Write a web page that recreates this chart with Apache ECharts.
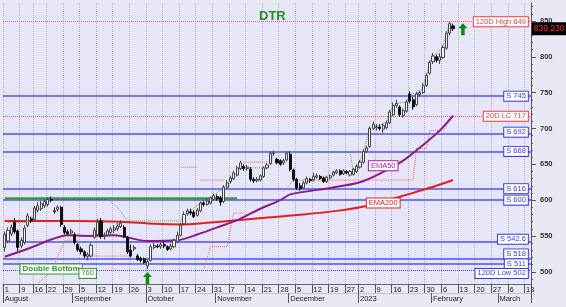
<!DOCTYPE html>
<html><head><meta charset="utf-8">
<script src="https://cdn.jsdelivr.net/npm/echarts@6/dist/echarts.min.js"></script>
<style>html,body{margin:0;padding:0;background:#e9e9f3;}#c{width:566px;height:307px;}</style>
</head><body><div id="c"></div>
<script>
// ---------- categories (trading days) ----------
const startDate = '2022-08-01';
const endDate = '2023-03-14';
const closedDays = ['2022-08-08', '2022-08-15', '2022-12-26'];
function buildDays() {
  const out = [];
  let d = new Date(startDate + 'T00:00:00Z');
  const e = new Date(endDate + 'T00:00:00Z');
  while (d <= e) {
    const w = d.getUTCDay();
    const s = d.toISOString().slice(0, 10);
    if (w !== 0 && w !== 6 && !closedDays.includes(s)) out.push(s);
    d = new Date(d.getTime() + 86400000);
  }
  return out;
}
const categories = buildDays();

// ---------- tick labels ----------
const weekTicks = ['2022-08-01','2022-08-09','2022-08-16','2022-08-22','2022-08-29','2022-09-05','2022-09-12','2022-09-19','2022-09-26','2022-10-03','2022-10-10','2022-10-17','2022-10-24','2022-10-31','2022-11-07','2022-11-14','2022-11-21','2022-11-28','2022-12-05','2022-12-12','2022-12-19','2022-12-27','2023-01-02','2023-01-09','2023-01-16','2023-01-23','2023-01-30','2023-02-06','2023-02-13','2023-02-20','2023-02-27','2023-03-06','2023-03-13'];
const monthStarts = ['2022-08-01','2022-09-01','2022-10-03','2022-11-01','2022-12-01','2023-01-02','2023-02-01','2023-03-01'];
const monthNames = ['August','September','October','November','December','2023','February','March'];
const yTicks = [500, 550, 600, 650, 700, 750, 800, 850];
const yMinorTicks = [490,510,520,530,540,560,570,580,590,610,620,630,640,660,670,680,690,710,720,730,740,760,770,780,790,810,820,830,840,860,870];

// ---------- candles [open, close, low, high] ----------
const augCandles = [
  [534,552,528,556],[543,558,540,562],[553,562,550,566],[569,556,553,575],[557,534,529,559],
  [536,544,533,548],[541,561,538,565],[565,578,562,582],[574,571,568,577],[573,589,571,592],
  [586,592,583,597],[588,595,585,599],[592,598,589,601],[594,601,591,604],[601,600,597,605],
  [585,584,581,590],[587,590,584,593],[590,566,563,592],[562,555,552,565],[556,553,550,559],
  [554,557,552,560]
];
const sepCandles = [
  [552,541,538,555],[538,531,528,540],[532,528,524,535],[528,522,519,530],[521,524,516,527],
  [522,537,520,540],[548,558,546,562],[552,569,550,574],[571,549,546,575],[549,551,545,555],
  [551,557,549,560],[555,560,552,563],[558,561,554,565],[560,564,557,568],[563,568,561,572],
  [562,549,547,565],[548,528,525,550],[530,522,520,538],[532,534,529,537],[522,517,515,525],
  [519,516,513,521],[518,513,511,520]
];
const octCandles = [
  [508,514,504,517],[516,535,514,538],[534,537,531,540],[536,535,533,539],[535,538,532,541],
  [538,536,533,542],[535,531,529,537],[532,536,530,539],[535,544,533,546],[542,551,540,556],
  [551,565,549,568],[567,580,565,584],[581,585,578,588],[584,582,579,588],[583,577,575,586],
  [579,586,577,589],[585,596,583,598],[596,594,591,599],[594,599,592,602],[596,603,594,605],
  [601,606,599,609]
];
const novCandles = [
  [605,602,599,608],[603,597,592,606],[598,618,596,621],[618,624,615,628],[626,631,623,634],
  [630,638,628,641],[635,645,633,648],[644,652,642,655],[647,644,641,650],[644,646,641,649],
  [643,629,626,646],[629,627,624,632],[627,629,625,632],[628,634,626,636],[633,645,631,647],
  [645,649,643,652],[651,665,649,668],[665,666,662,669],[657,652,650,659],[655,650,648,657],
  [652,655,649,658],[656,665,654,668]
];
const decCandles = [
  [664,643,640,668],[642,629,626,644],[629,617,614,631],[620,616,613,624],[617,624,615,627],
  [624,630,622,633],[629,627,624,631],[628,633,626,638],[632,634,630,637],[633,630,628,635],
  [631,626,624,633],[626,632,624,634],[631,634,629,636],[635,639,633,641],[638,641,636,643],
  [641,636,634,643],[637,641,635,643],[640,638,636,642],[635,640,633,642],[636,643,634,645],
  [640,647,638,650]
];
const janCandles = [
  [646,653,644,656],[653,668,651,671],[668,673,666,676],[675,700,673,703],[700,706,698,710],
  [701,702,697,706],[702,700,697,706],[699,704,694,707],[701,708,699,711],[708,723,706,726],
  [719,732,717,736],[732,735,729,740],[730,719,716,732],[718,725,715,728],[724,737,722,740],
  [748,738,735,752],[740,730,726,744],[733,748,731,751],[747,750,744,753],[750,760,748,763],
  [760,774,758,777],[777,792,775,795]
];
const febCandles = [
  [793,801,790,805],[800,795,792,803],[795,800,790,805],[799,813,797,816],[812,833,810,836],
  [833,846,830,849],[843,839.23,836,846]
];
const candles = [].concat(augCandles, sepCandles, octCandles, novCandles, decCandles, janCandles, febCandles);
const lastClose = 839.23;

// ---------- moving averages & trails [dayIndex, value] ----------
const ema200 = [[0,571],[20,571],[35,570],[45,567],[53,566],[60,568],[70,572],[80,576],[90,580],[100,585],[107,590],[114,598],[120,606],[125,613],[130,620],[135,628]];
const ema50 = [[0,521],[8,534],[14,545],[19,551],[25,550],[33,551],[43,543],[52,544],[58,552],[64,562],[70,572],[77,588],[83,600],[86,608],[98,617],[107,625],[113,637],[120,655],[126,677],[131,697],[135,718]];
const greenTrailA = [[1,569],[7,569],[13,601]];
const blueTrail = [[13,601],[31,601]];
const greenTrailB = [[31,601],[34,590],[37,571],[53,571],[55,582],[59,596],[62,603],[66,618],[69,634],[71,645],[79,645],[80,649],[81,667],[104,667],[105,640],[107,653],[108,668],[110,700],[115,708],[116,723],[117,732],[118,735],[121,737],[122,748],[125,750],[126,760],[127,774],[128,792],[129,801],[132,813],[133,833],[134,846],[135,846]];
const redTrailA = [[10,484],[14,500],[18,544],[22,544]];
const redTrailB = [[25,522],[38,522]];
const redTrailC = [[60,505],[62,535],[66,535],[67,535],[69,582],[72,582]];
const redTrailD = [[53,646],[58,646]];
const redTrailE = [[59,628],[66,628]];
const redTrailF = [[72,653],[79,653]];
const redTrailG = [[84,612],[87,628],[123,628],[124,672],[127,672],[128,697],[132,697],[135,717]];

// ---------- levels ----------
const supportLevels = [745, 692, 668, 616, 600, 542.6, 518, 511];
const supportTexts = ['S 745','S 692','S 668','S 616','S 600','S 542.6','S 518','S 511'];
const supportLabelShift = [0, -2, 0, 0, 0, -2, -5, 0];
const high120 = 849, low120 = 502, lc20 = 717;
const greenLevel = 602, greenLevelEnd = 70;
const doubleBottomText = 'Double Bottom', doubleBottomAt = [14, 504];
const tagText760 = '760', tag760At = [25, 497.8];
const ema50TagAt = [114, 648], ema200TagAt = [114, 596];
const arrowsAt = [[138, 838.3], [43, 491.5]];

const FONT = 'Liberation Sans, Arial, sans-serif';
const lastIdx = categories.length - 1;
const weekFn = (i, v) => weekTicks.includes(v);
const monthFn = (i, v) => monthStarts.includes(v);

function tag(text, coord, color, extra) {
  return Object.assign({
    coord: coord, value: text, symbol: 'rect', symbolSize: 1,
    itemStyle: { color: 'rgba(0,0,0,0)' },
    label: Object.assign({
      show: true, position: 'left', distance: 1, formatter: text, color: color,
      backgroundColor: '#ffffff', borderColor: color, borderWidth: 1,
      padding: [1, 2, 0, 2], fontSize: 7.5, fontFamily: FONT, lineHeight: 8
    }, extra || {})
  });
}

const markPoints = [];
supportLevels.forEach((v, i) => markPoints.push(tag(supportTexts[i], [lastIdx, v], '#3a3ae0', { offset: [0, supportLabelShift[i]] })));
markPoints.push(tag('120D High ' + high120, [lastIdx, high120], '#f03c3c'));
markPoints.push(tag('20D LC ' + lc20, [lastIdx, lc20], '#f03c3c'));
markPoints.push(tag('120D Low ' + low120, [lastIdx, low120], '#3a3ae0', { offset: [0, 3] }));
markPoints.push(tag('EMA50', ema50TagAt, '#a020a0', { position: 'inside' }));
markPoints.push(tag('EMA200', ema200TagAt, '#e02020', { position: 'inside' }));
markPoints.push(tag(doubleBottomText, doubleBottomAt, '#2a9a2a', { position: 'inside', fontWeight: 'bold', fontSize: 8 }));
markPoints.push(tag(tagText760, tag760At, '#2a9a2a', { position: 'inside' }));
markPoints.push(tag(lastClose.toFixed(3), [lastIdx, lastClose], '#ff2a2a', {
  position: 'right', distance: 3, backgroundColor: '#000', borderColor: '#000', fontSize: 8.5,
  padding: [2, 1, 1, 1], fontFamily: 'Liberation Sans Narrow, Liberation Sans, Arial'
}));
arrowsAt.forEach(c => markPoints.push({
  coord: c, symbol: 'path://M5,0 L10,5 L7,5 L7,12 L3,12 L3,5 L0,5 Z', symbolSize: [9, 12],
  itemStyle: { color: '#0b8a0b' }, label: { show: false }
}));

const markLines = [];
supportLevels.forEach(v => markLines.push({ yAxis: v, lineStyle: { color: '#5050ee', width: 1.5, type: 'solid' } }));
markLines.push({ yAxis: high120, lineStyle: { color: '#f05a5a', width: 1, type: 'dotted' } });
markLines.push({ yAxis: lc20, lineStyle: { color: '#f05a5a', width: 1, type: 'dotted' } });
markLines.push({ yAxis: low120, lineStyle: { color: '#4040e0', width: 1, type: 'dotted' } });
markLines.push([{ coord: [0, greenLevel], lineStyle: { color: '#3a9a3a', width: 2.5, type: 'solid' } }, { coord: [greenLevelEnd, greenLevel] }]);

function trail(data, color, z) {
  return { type: 'line', data: data, symbol: 'none', silent: true, z: z || 3,
    lineStyle: { color: color, width: 1, type: 'dotted' } };
}

const chart = echarts.init(document.getElementById('c'), null, { renderer: 'canvas' });
chart.setOption({
  animation: false,
  backgroundColor: '#e9e9f3',
  title: { text: 'DTR', left: 254, top: 5, textStyle: { color: '#1f8f1f', fontSize: 13, fontWeight: 'bold', fontFamily: FONT } },
  grid: { left: 3, right: 35, top: 3, bottom: 23, show: true, backgroundColor: '#e6e6f8', borderWidth: 0 },
  xAxis: [{
    type: 'category', data: categories, boundaryGap: true, position: 'bottom',
    axisLine: { show: true, lineStyle: { color: '#666', width: 1 } },
    axisTick: { show: true, interval: weekFn, length: 9, lineStyle: { color: '#555' } },
    axisLabel: { interval: weekFn, formatter: v => String(parseInt(v.slice(8), 10)), align: 'left', margin: 2,
      color: '#222', fontSize: 7.5, fontFamily: FONT },
    splitLine: { show: true, interval: weekFn, lineStyle: { color: '#b4b4c4', type: 'dotted', width: 1 } }
  }, {
    type: 'category', data: categories, boundaryGap: true, position: 'bottom', offset: 9,
    axisLine: { show: true, lineStyle: { color: '#c4c4cc', width: 1 } },
    axisTick: { show: true, interval: monthFn, length: 10, lineStyle: { color: '#555' } },
    axisLabel: { interval: monthFn, formatter: v => monthNames[monthStarts.indexOf(v)], align: 'left', margin: 2,
      color: '#222', fontSize: 7.5, fontFamily: FONT },
    splitLine: { show: false }
  }],
  yAxis: [{
    type: 'value', position: 'right', min: 483, max: 875, scale: true,
    splitLine: { show: false },
    axisLine: { show: true, lineStyle: { color: '#555' } },
    axisTick: { show: true, length: 5, customValues: yTicks, lineStyle: { color: '#555' } },
    axisLabel: { customValues: yTicks, color: '#333', fontSize: 7.5, fontWeight: 'bold', margin: 9, fontFamily: FONT }
  }, {
    type: 'value', position: 'right', min: 483, max: 875, scale: true,
    splitLine: { show: false }, axisLine: { show: false },
    axisTick: { show: true, length: 2, customValues: yMinorTicks, lineStyle: { color: '#555' } },
    axisLabel: { show: false }
  }],
  series: [
    trail(greenTrailA, '#4caa4c'), trail(blueTrail, '#4040e0'), trail(greenTrailB, '#4caa4c'),
    trail(redTrailA, '#f06464'), trail(redTrailB, '#f06464'), trail(redTrailC, '#f06464'),
    trail(redTrailD, '#f06464'), trail(redTrailE, '#f06464'), trail(redTrailF, '#f06464'), trail(redTrailG, '#f06464'),
    { type: 'line', data: ema200, symbol: 'none', smooth: 0.3, silent: true, z: 4, lineStyle: { color: '#e02020', width: 2 } },
    { type: 'line', data: ema50, symbol: 'none', smooth: 0.3, silent: true, z: 4, lineStyle: { color: '#8a1a8a', width: 2 } },
    {
      type: 'candlestick', data: candles, barWidth: 2.6, z: 5,
      itemStyle: { color: '#f4f4f4', color0: '#111', borderColor: '#444', borderColor0: '#111', borderWidth: 1 },
      markLine: { symbol: 'none', silent: true, label: { show: false }, data: markLines, z: 2 },
      markPoint: { silent: true, data: markPoints, z: 10 }
    }
  ]
});
</script></body></html>
